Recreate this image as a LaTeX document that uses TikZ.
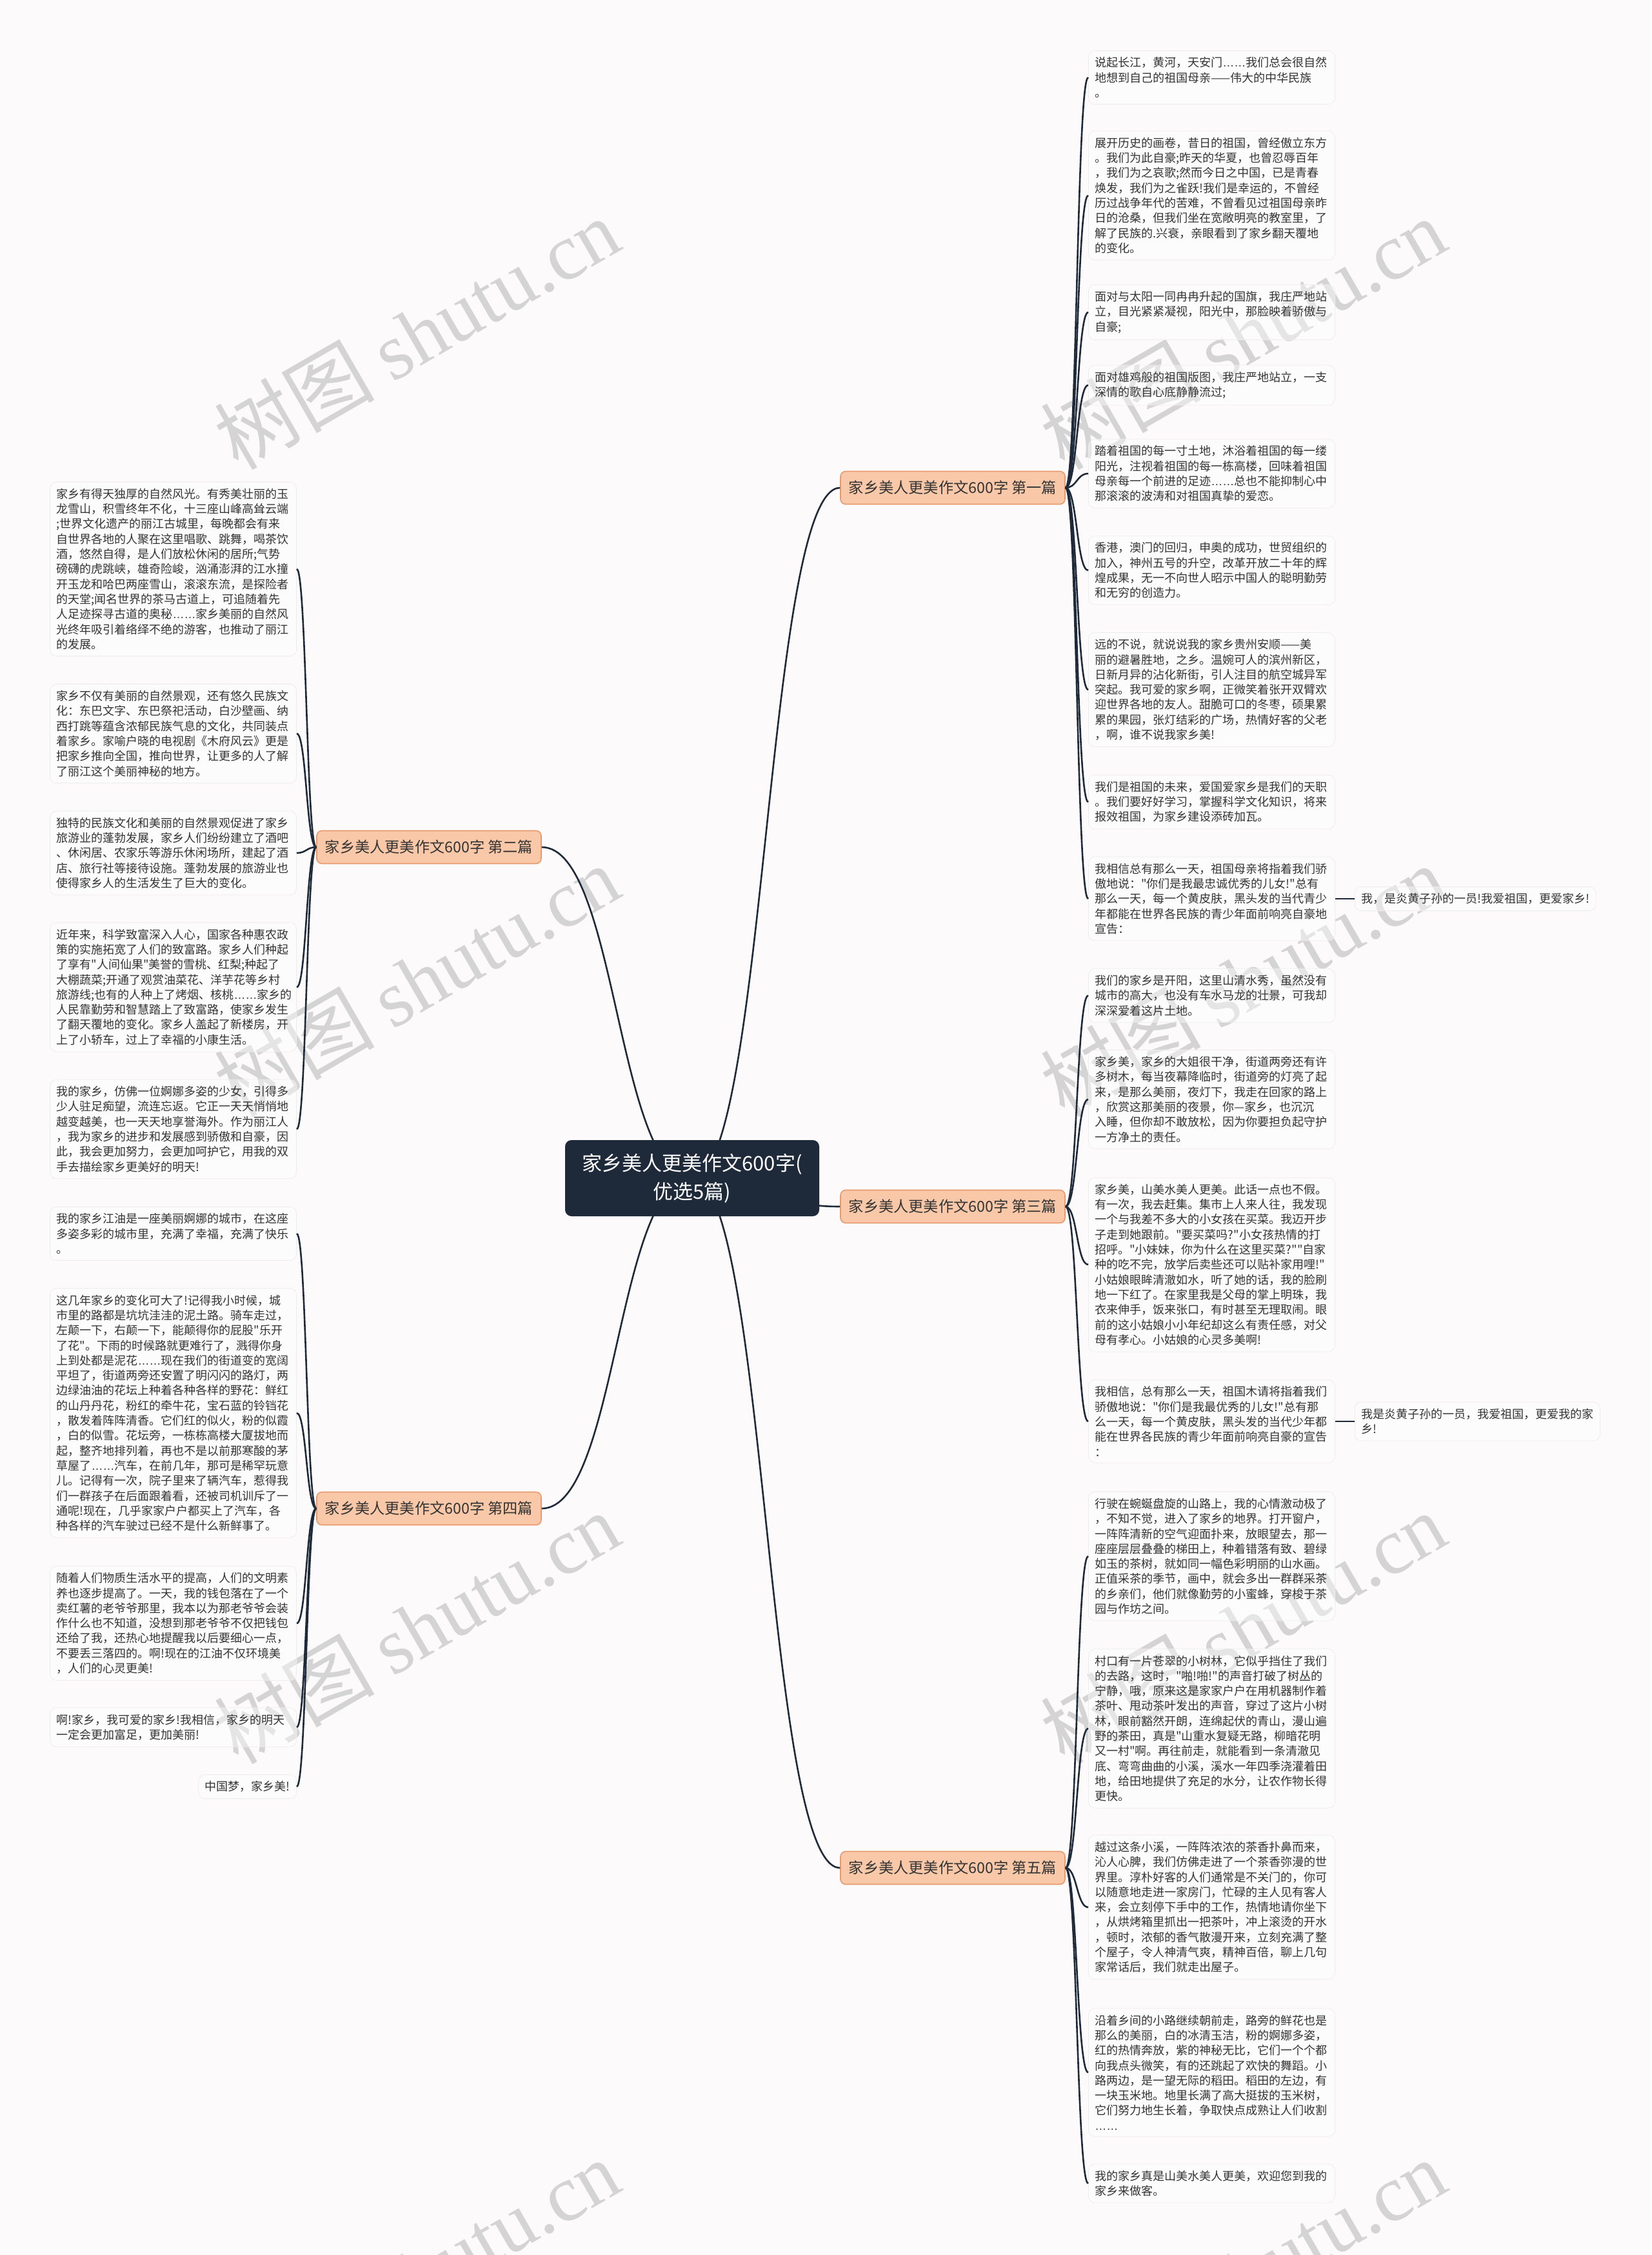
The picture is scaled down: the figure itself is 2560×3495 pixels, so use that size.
\documentclass[tikz,border=0pt]{standalone}
\usepackage{fontspec}
\setmainfont{Noto Sans CJK SC}[Ligatures=TeXOff]
\newfontfamily\wmfont{Liberation Serif}
\newfontfamily\latinfont{Liberation Sans}
\newcommand\ldts{{\latinfont ……}}
\definecolor{navy}{HTML}{1E2A3A}
\definecolor{peach}{HTML}{F9C8A8}
\definecolor{peachline}{HTML}{E89A6E}
\definecolor{paper}{HTML}{FCFAFA}
\definecolor{leafline}{HTML}{F1ECEC}
\definecolor{inkc}{HTML}{333333}
\definecolor{wmgray}{HTML}{D4D4D4}
\begin{document}
\begin{tikzpicture}[x=.5pt,y=-.5pt,
  link/.style={draw=navy,line width=1.3pt},
  root/.style={fill=navy,text=white,rounded corners=5pt,minimum width=197pt,minimum height=59pt,align=center,font=\fontsize{15.5}{22}\selectfont},
  branch/.style={fill=peach,draw=peachline,line width=.8pt,rounded corners=4pt,minimum width=174pt,minimum height=25.5pt,text=inkc,font=\fontsize{11.6}{14}\selectfont},
  leaf/.style={fill=white,fill opacity=.4,text opacity=1,draw=leafline,line width=.4pt,rounded corners=5pt,inner sep=5pt,align=left,text=inkc,font=\fontsize{9}{11.65}\selectfont},
  rleaf/.style={leaf,anchor=west,text width=181pt},
  lleaf/.style={leaf,anchor=east,text width=181pt},
  wm/.style={text=wmgray,rotate=30,font=\fontsize{62}{62}\selectfont}]
\fill[paper] (0,0) rectangle (2560,3495);
\useasboundingbox (0,0) rectangle (2560,3495);
% watermarks
\foreach \y [count=\i] in {517,1520,2523,3526}{\node[wm] (wmL\i) at (646,\y){树图 {\wmfont shutu.cn}};\node[wm] (wmR\i) at (1927,\y){树图 {\wmfont shutu.cn}};}
% root and branches
\coordinate (rc) at (1073,1826);
\node[branch] (br1) at (1477,756){家乡美人更美作文600字 第一篇};
\node[branch] (br2) at (665,1313){家乡美人更美作文600字 第二篇};
\node[branch] (br3) at (1477,1870){家乡美人更美作文600字 第三篇};
\node[branch] (br4) at (665,2338){家乡美人更美作文600字 第四篇};
\node[branch] (br5) at (1477,2895){家乡美人更美作文600字 第五篇};
\foreach \b in {br1,br3,br5}\draw[link] (rc) .. controls +(115,0) and +(-115,0) .. (\b.west);
\foreach \b in {br2,br4}\draw[link] (rc) .. controls +(-117,0) and +(117,0) .. (\b.east);
\node[root] (root) at (rc){家乡美人更美作文600字(\\优选5篇)};
% 第一篇
\node[rleaf] (l11) at (1687,120){说起长江，黄河，天安门\ldts 我们总会很自然\\地想到自己的祖国母亲——伟大的中华民族\\。};
\node[rleaf] (l12) at (1687,303){展开历史的画卷，昔日的祖国，曾经傲立东方\\。我们为此自豪;昨天的华夏，也曾忍辱百年\\，我们为之哀歌;然而今日之中国，已是青春\\焕发，我们为之雀跃!我们是幸运的，不曾经\\历过战争年代的苦难，不曾看见过祖国母亲昨\\日的沧桑，但我们坐在宽敞明亮的教室里，了\\解了民族的.兴衰，亲眼看到了家乡翻天覆地\\的变化。};
\node[rleaf] (l13) at (1687,484){面对与太阳一同冉冉升起的国旗，我庄严地站\\立，目光紧紧凝视，阳光中，那脸映着骄傲与\\自豪;};
\node[rleaf] (l14) at (1687,597){面对雄鸡般的祖国版图，我庄严地站立，一支\\深情的歌自心底静静流过;};
\node[rleaf] (l15) at (1687,734){踏着祖国的每一寸土地，沐浴着祖国的每一缕\\阳光，注视着祖国的每一栋高楼，回味着祖国\\母亲每一个前进的足迹\ldts 总也不能抑制心中\\那滚滚的波涛和对祖国真挚的爱恋。};
\node[rleaf] (l16) at (1687,884){香港，澳门的回归，申奥的成功，世贸组织的\\加入，神州五号的升空，改革开放二十年的辉\\煌成果，无一不向世人昭示中国人的聪明勤劳\\和无穷的创造力。};
\node[rleaf] (l17) at (1687,1069){远的不说，就说说我的家乡贵州安顺——美\\丽的避暑胜地，之乡。温婉可人的滨州新区，\\日新月异的沾化新街，引人注目的航空城异军\\突起。我可爱的家乡啊，正微笑着张开双臂欢\\迎世界各地的友人。甜脆可口的冬枣，硕果累\\累的果园，张灯结彩的广场，热情好客的父老\\，啊，谁不说我家乡美!};
\node[rleaf] (l18) at (1687,1243){我们是祖国的未来，爱国爱家乡是我们的天职\\。我们要好好学习，掌握科学文化知识，将来\\报效祖国，为家乡建设添砖加瓦。};
\node[rleaf] (l19) at (1687,1393){我相信总有那么一天，祖国母亲将指着我们骄\\傲地说："你们是我最忠诚优秀的儿女!"总有\\那么一天，每一个黄皮肤，黑头发的当代青少\\年都能在世界各民族的青少年面前响亮自豪地\\宣告：};
\node[leaf,anchor=west] (s19) at (2100,1393){我，是炎黄子孙的一员!我爱祖国，更爱家乡!};
\foreach \l in {l11,l12,l13,l14,l15,l16,l17,l18,l19}\draw[link] (br1.east) .. controls +(18,0) and +(-18,0) .. (\l.west);
\draw[link] (l19.east) -- (s19.west);
% 第二篇
\node[lleaf] (l21) at (460,882){家乡有得天独厚的自然风光。有秀美壮丽的玉\\龙雪山，积雪终年不化，十三座山峰高耸云端\\;世界文化遗产的丽江古城里，每晚都会有来\\自世界各地的人聚在这里唱歌、跳舞，喝茶饮\\酒，悠然自得，是人们放松休闲的居所;气势\\磅礴的虎跳峡，雄奇险峻，汹涌澎湃的江水撞\\开玉龙和哈巴两座雪山，滚滚东流，是探险者\\的天堂;闻名世界的茶马古道上，可追随着先\\人足迹探寻古道的奥秘\ldts 家乡美丽的自然风\\光终年吸引着络绎不绝的游客，也推动了丽江\\的发展。};
\node[lleaf] (l22) at (460,1137){家乡不仅有美丽的自然景观，还有悠久民族文\\化：东巴文字、东巴祭祀活动，白沙壁画、纳\\西打跳等蕴含浓郁民族气息的文化，共同装点\\着家乡。家喻户晓的电视剧《木府风云》更是\\把家乡推向全国，推向世界，让更多的人了解\\了丽江这个美丽神秘的地方。};
\node[lleaf] (l23) at (460,1322){独特的民族文化和美丽的自然景观促进了家乡\\旅游业的蓬勃发展，家乡人们纷纷建立了酒吧\\、休闲居、农家乐等游乐休闲场所，建起了酒\\店、旅行社等接待设施。蓬勃发展的旅游业也\\使得家乡人的生活发生了巨大的变化。};
\node[lleaf] (l24) at (460,1530){近年来，科学致富深入人心，国家各种惠农政\\策的实施拓宽了人们的致富路。家乡人们种起\\了享有"人间仙果"美誉的雪桃、红梨;种起了\\大棚蔬菜;开通了观赏油菜花、洋芋花等乡村\\旅游线;也有的人种上了烤烟、核桃\ldts 家乡的\\人民靠勤劳和智慧踏上了致富路，使家乡发生\\了翻天覆地的变化。家乡人盖起了新楼房，开\\上了小轿车，过上了幸福的小康生活。};
\node[lleaf] (l25) at (460,1750){我的家乡，仿佛一位婀娜多姿的少女，引得多\\少人驻足痴望，流连忘返。它正一天天悄悄地\\越变越美，也一天天地享誉海外。作为丽江人\\，我为家乡的进步和发展感到骄傲和自豪，因\\此，我会更加努力，会更加呵护它，用我的双\\手去描绘家乡更美好的明天!};
\foreach \l in {l21,l22,l23,l24,l25}\draw[link] (br2.west) .. controls +(-15,0) and +(15,0) .. (\l.east);
% 第三篇
\node[rleaf] (l31) at (1687,1543){我们的家乡是开阳，这里山清水秀，虽然没有\\城市的高大，也没有车水马龙的壮景，可我却\\深深爱着这片土地。};
\node[rleaf] (l32) at (1687,1704){家乡美，家乡的大姐很干净，街道两旁还有许\\多树木，每当夜幕降临时，街道旁的灯亮了起\\来，是那么美丽，夜灯下，我走在回家的路上\\，欣赏这那美丽的夜景，你—家乡，也沉沉\\入睡，但你却不敢放松，因为你要担负起守护\\一方净土的责任。};
\node[rleaf] (l33) at (1687,1960){家乡美，山美水美人更美。此话一点也不假。\\有一次，我去赶集。集市上人来人往，我发现\\一个与我差不多大的小女孩在买菜。我迈开步\\子走到她跟前。"要买菜吗?"小女孩热情的打\\招呼。"小妹妹，你为什么在这里买菜?""自家\\种的吃不完，放学后卖些还可以贴补家用哩!"\\小姑娘眼眸清澈如水，听了她的话，我的脸刷\\地一下红了。在家里我是父母的掌上明珠，我\\衣来伸手，饭来张口，有时甚至无理取闹。眼\\前的这小姑娘小小年纪却这么有责任感，对父\\母有孝心。小姑娘的心灵多美啊!};
\node[rleaf] (l34) at (1687,2203){我相信，总有那么一天，祖国木请将指着我们\\骄傲地说："你们是我最优秀的儿女!"总有那\\么一天，每一个黄皮肤，黑头发的当代少年都\\能在世界各民族的青少年面前响亮自豪的宣告\\：};
\node[leaf,anchor=west] (s34) at (2100,2203){我是炎黄子孙的一员，我爱祖国，更爱我的家\\乡!};
\foreach \l in {l31,l32,l33,l34}\draw[link] (br3.east) .. controls +(18,0) and +(-18,0) .. (\l.west);
\draw[link] (l34.east) -- (s34.west);
% 第四篇
\node[lleaf] (l41) at (460,1912){我的家乡江油是一座美丽婀娜的城市，在这座\\多姿多彩的城市里，充满了幸福，充满了快乐\\。};
\node[lleaf] (l42) at (460,2190){这几年家乡的变化可大了!记得我小时候，城\\市里的路都是坑坑洼洼的泥土路。骑车走过，\\左颠一下，右颠一下，能颠得你的屁股"乐开\\了花"。下雨的时候路就更难行了，溅得你身\\上到处都是泥花\ldts 现在我们的街道变的宽阔\\平坦了，街道两旁还安置了明闪闪的路灯，两\\边绿油油的花坛上种着各种各样的野花：鲜红\\的山丹丹花，粉红的牵牛花，宝石蓝的铃铛花\\，散发着阵阵清香。它们红的似火，粉的似霞\\，白的似雪。花坛旁，一栋栋高楼大厦拔地而\\起，整齐地排列着，再也不是以前那寒酸的茅\\草屋了\ldts 汽车，在前几年，那可是稀罕玩意\\儿。记得有一次，院子里来了辆汽车，惹得我\\们一群孩子在后面跟着看，还被司机训斥了一\\通呢!现在，几乎家家户户都买上了汽车，各\\种各样的汽车驶过已经不是什么新鲜事了。};
\node[lleaf] (l43) at (460,2516){随着人们物质生活水平的提高，人们的文明素\\养也逐步提高了。一天，我的钱包落在了一个\\卖红薯的老爷爷那里，我本以为那老爷爷会装\\作什么也不知道，没想到那老爷爷不仅把钱包\\还给了我，还热心地提醒我以后要细心一点，\\不要丢三落四的。啊!现在的江油不仅环境美\\，人们的心灵更美!};
\node[lleaf] (l44) at (460,2677){啊!家乡，我可爱的家乡!我相信，家乡的明天\\一定会更加富足，更加美丽!};
\node[leaf,anchor=east] (l45) at (460,2769){中国梦，家乡美!};
\foreach \l in {l41,l42,l43,l44,l45}\draw[link] (br4.west) .. controls +(-15,0) and +(15,0) .. (\l.east);
% 第五篇
\node[rleaf] (l51) at (1687,2412){行驶在蜿蜒盘旋的山路上，我的心情激动极了\\，不知不觉，进入了家乡的地界。打开窗户，\\一阵阵清新的空气迎面扑来，放眼望去，那一\\座座层层叠叠的梯田上，种着错落有致、碧绿\\如玉的茶树，就如同一幅色彩明丽的山水画。\\正值采茶的季节，画中，就会多出一群群采茶\\的乡亲们，他们就像勤劳的小蜜蜂，穿梭于茶\\园与作坊之间。};
\node[rleaf] (l52) at (1687,2679){村口有一片苍翠的小树林，它似乎挡住了我们\\的去路，这时，"啪!啪!"的声音打破了树丛的\\宁静，哦，原来这是家家户户在用机器制作着\\茶叶、甩动茶叶发出的声音，穿过了这片小树\\林，眼前豁然开朗，连绵起伏的青山，漫山遍\\野的茶田，真是"山重水复疑无路，柳暗花明\\又一村"啊。再往前走，就能看到一条清澈见\\底、弯弯曲曲的小溪，溪水一年四季浇灌着田\\地，给田地提供了充足的水分，让农作物长得\\更快。};
\node[rleaf] (l53) at (1687,2956){越过这条小溪，一阵阵浓浓的茶香扑鼻而来，\\沁人心脾，我们仿佛走进了一个茶香弥漫的世\\界里。淳朴好客的人们通常是不关门的，你可\\以随意地走进一家房门，忙碌的主人见有客人\\来，会立刻停下手中的工作，热情地请你坐下\\，从烘烤箱里抓出一把茶叶，冲上滚烫的开水\\，顿时，浓郁的香气散漫开来，立刻充满了整\\个屋子，令人神清气爽，精神百倍，聊上几句\\家常话后，我们就走出屋子。};
\node[rleaf] (l54) at (1687,3212){沿着乡间的小路继续朝前走，路旁的鲜花也是\\那么的美丽，白的冰清玉洁，粉的婀娜多姿，\\红的热情奔放，紫的神秘无比，它们一个个都\\向我点头微笑，有的还跳起了欢快的舞蹈。小\\路两边，是一望无际的稻田。稻田的左边，有\\一块玉米地。地里长满了高大挺拔的玉米树，\\它们努力地生长着，争取快点成熟让人们收割\\\ldts};
\node[rleaf] (l55) at (1687,3384){我的家乡真是山美水美人更美，欢迎您到我的\\家乡来做客。};
\foreach \l in {l51,l52,l53,l54,l55}\draw[link] (br5.east) .. controls +(18,0) and +(-18,0) .. (\l.west);
\end{tikzpicture}
\end{document}
